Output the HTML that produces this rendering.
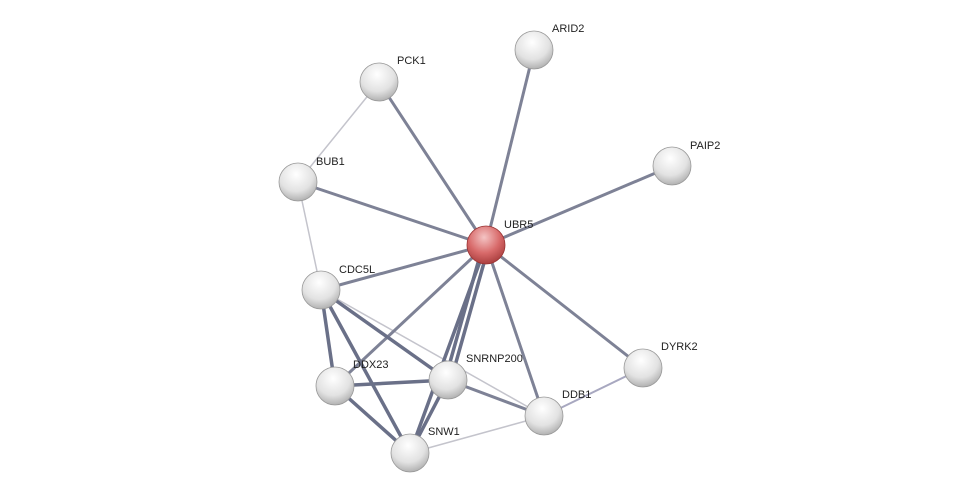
<!DOCTYPE html>
<html><head><meta charset="utf-8"><style>
html,body{margin:0;padding:0;background:#fff;}
svg{display:block;}
text{font-family:"Liberation Sans",sans-serif;font-size:11px;fill:#222;}
</style></head><body>
<svg width="976" height="498" viewBox="0 0 976 498" xmlns="http://www.w3.org/2000/svg">
<defs>
<radialGradient id="g" cx="0.45" cy="0.3" r="0.75">
<stop offset="0" stop-color="#ffffff"/><stop offset="0.6" stop-color="#e2e2e2"/><stop offset="1" stop-color="#a8a8a8"/>
</radialGradient>
<radialGradient id="r" cx="0.45" cy="0.3" r="0.75">
<stop offset="0" stop-color="#f4c4c4"/><stop offset="0.55" stop-color="#d86a6a"/><stop offset="1" stop-color="#a33838"/>
</radialGradient>
</defs>
<g stroke-linecap="round">
<g stroke="#c4c4cc" stroke-width="1.5">
<line x1="379" y1="82" x2="298" y2="182"/>
<line x1="298" y1="182" x2="321" y2="290"/>
<line x1="321" y1="290" x2="544" y2="416"/>
<line x1="410" y1="453" x2="544" y2="416"/>
</g>
<line x1="544" y1="416" x2="643" y2="368" stroke="#a8a8c0" stroke-width="2"/>
<g stroke="#7e8296" stroke-width="3">
<line x1="486" y1="245" x2="534" y2="50"/>
<line x1="486" y1="245" x2="379" y2="82"/>
<line x1="486" y1="245" x2="672" y2="166"/>
<line x1="486" y1="245" x2="298" y2="182"/>
<line x1="486" y1="245" x2="321" y2="290"/>
<line x1="486" y1="245" x2="643" y2="368"/>
<line x1="486" y1="245" x2="544" y2="416"/>
<line x1="486" y1="245" x2="335" y2="386"/>
<line x1="448" y1="380" x2="544" y2="416"/>
</g>
<g stroke="#6a7088" stroke-width="3.5">
<line x1="483" y1="245" x2="445" y2="380"/>
<line x1="489" y1="245" x2="451" y2="380"/>
<line x1="486" y1="245" x2="410" y2="453"/>
<line x1="321" y1="290" x2="335" y2="386"/>
<line x1="321" y1="290" x2="410" y2="453"/>
<line x1="321" y1="290" x2="448" y2="380"/>
<line x1="335" y1="386" x2="448" y2="380"/>
<line x1="335" y1="386" x2="410" y2="453"/>
<line x1="448" y1="380" x2="410" y2="453"/>
</g>
</g>
<g stroke="#999" stroke-width="0.8">
<circle cx="534" cy="50" r="19" fill="url(#g)"/>
<circle cx="379" cy="82" r="19" fill="url(#g)"/>
<circle cx="672" cy="166" r="19" fill="url(#g)"/>
<circle cx="298" cy="182" r="19" fill="url(#g)"/>
<circle cx="321" cy="290" r="19" fill="url(#g)"/>
<circle cx="643" cy="368" r="19" fill="url(#g)"/>
<circle cx="335" cy="386" r="19" fill="url(#g)"/>
<circle cx="448" cy="380" r="19" fill="url(#g)"/>
<circle cx="544" cy="416" r="19" fill="url(#g)"/>
<circle cx="410" cy="453" r="19" fill="url(#g)"/>
<circle cx="486" cy="245" r="19" fill="url(#r)" stroke="#933"/>
</g>
<text x="552" y="32">ARID2</text>
<text x="397" y="64">PCK1</text>
<text x="690" y="149">PAIP2</text>
<text x="316" y="165">BUB1</text>
<text x="504" y="228">UBR5</text>
<text x="339" y="273">CDC5L</text>
<text x="661" y="350">DYRK2</text>
<text x="353" y="368">DDX23</text>
<text x="466" y="362">SNRNP200</text>
<text x="562" y="398">DDB1</text>
<text x="428" y="435">SNW1</text>
</svg>
</body></html>
